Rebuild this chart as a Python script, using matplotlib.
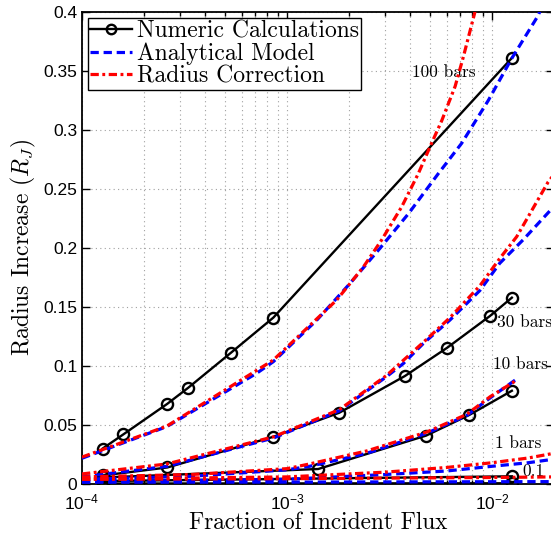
import matplotlib
matplotlib.use("Agg")
import matplotlib.pyplot as plt
from matplotlib.ticker import FixedLocator, FuncFormatter, LogLocator

plt.rcParams['font.family'] = ['Liberation Sans', 'DejaVu Sans']
plt.rcParams['mathtext.fontset'] = 'cm'
plt.rcParams['axes.formatter.use_mathtext'] = True

# numeric calculations (circles)
x_num_100 = [1.26e-4, 1.59e-4, 2.61e-4, 3.30e-4, 5.31e-4, 8.58e-4, 1.25e-2]
y_num_100 = [0.030, 0.042, 0.068, 0.0816, 0.111, 0.141, 0.361]
x_num_30 = [1.26e-4, 2.61e-4, 8.58e-4, 1.80e-3, 3.76e-3, 6.05e-3, 9.78e-3, 1.25e-2]
y_num_30 = [0.0072, 0.014, 0.040, 0.0604, 0.0915, 0.1155, 0.1424, 0.1579]
x_num_10 = [1.26e-4, 1.42e-3, 4.77e-3, 7.75e-3, 1.25e-2]
y_num_10 = [0.0055, 0.0127, 0.041, 0.0585, 0.079]
x_num_1 = [1.26e-4, 1.25e-2]
y_num_1 = [0.0025, 0.0065]
x_num_01 = [1.26e-4, 1.25e-2]
y_num_01 = [0.0004, 0.0006]

# analytical model (blue)
x_ana_100 = [1.0e-4, 2.59e-4, 7.11e-4, 8.57e-4, 1.40e-3, 2.03e-3, 2.84e-3, 3.91e-3, 5.47e-3, 7.11e-3, 9.59e-3, 1.25e-2, 1.68e-2, 1.80e-2]
y_ana_100 = [0.0218, 0.0486, 0.0938, 0.1036, 0.139, 0.170, 0.1997, 0.229, 0.263, 0.2887, 0.325, 0.3608, 0.397, 0.41]
x_ana_30 = [1.0e-4, 2.6e-4, 8.6e-4, 1.8e-3, 3.06e-3, 3.69e-3, 4.62e-3, 6.24e-3, 8.73e-3, 1.09e-2, 1.42e-2, 2.0e-2]
y_ana_30 = [0.006, 0.015, 0.039, 0.062, 0.091, 0.102, 0.119, 0.139, 0.164, 0.187, 0.207, 0.235]
x_ana_10 = [1.0e-4, 3.4e-4, 1.0e-3, 1.29e-3, 2.45e-3, 4.8e-3, 7.53e-3, 9.8e-3, 1.32e-2]
y_ana_10 = [0.004, 0.0065, 0.012, 0.015, 0.026, 0.043, 0.058, 0.073, 0.089]
x_ana_1 = [1e-4, 1e-3, 3e-3, 6e-3, 1e-2, 1.5e-2, 2e-2]
y_ana_1 = [0.002, 0.004, 0.008, 0.011, 0.015, 0.018, 0.021]
x_ana_01 = [1e-4, 1e-3, 1e-2, 2e-2]
y_ana_01 = [0.0015, 0.0016, 0.0019, 0.002]

# radius correction (red)
x_cor_100 = [1.0e-4, 2.59e-4, 8.57e-4, 1.75e-3, 2.36e-3, 2.90e-3, 3.63e-3, 4.37e-3, 5.08e-3, 5.69e-3, 6.61e-3, 7.25e-3, 8.20e-3, 8.5e-3]
y_cor_100 = [0.0228, 0.049, 0.105, 0.156, 0.184, 0.207, 0.235, 0.263, 0.289, 0.308, 0.337, 0.362, 0.398, 0.41]
x_cor_30 = [1.0e-4, 2.6e-4, 8.6e-4, 1.8e-3, 3.06e-3, 4.62e-3, 6.24e-3, 8.73e-3, 1.09e-2, 1.32e-2, 1.88e-2, 2.0e-2]
y_cor_30 = [0.0085, 0.017, 0.040, 0.063, 0.092, 0.120, 0.141, 0.168, 0.191, 0.2096, 0.256, 0.262]
x_cor_10 = x_ana_10
y_cor_10 = [0.006, 0.008, 0.013, 0.017, 0.028, 0.044, 0.059, 0.074, 0.088]
x_cor_1 = x_ana_1
y_cor_1 = [0.004, 0.006, 0.010, 0.014, 0.018, 0.022, 0.026]
x_cor_01 = x_ana_01
y_cor_01 = [0.004, 0.0045, 0.0055, 0.006]

labels = ['100 bars', '30 bars', '10 bars', '1 bars', '0.1']
label_x = [4.07e-3, 1.06e-2, 1.01e-2, 1.03e-2, 1.40e-2]
label_y = [0.349, 0.137, 0.101, 0.0347, 0.0104]

serif = 'cmr10'

fig = plt.figure(figsize=(5.51, 5.38), dpi=100)
ax = fig.add_axes([0.1488, 0.1004, 0.8561, 0.8773])

num_kw = dict(color='black', lw=1.7, marker='o', ms=8, mfc='none', mew=1.7, zorder=3)
ana_kw = dict(color='#0000ff', lw=2.3, dashes=(2.6, 1.5), zorder=4)
cor_kw = dict(color='#ff0000', lw=2.3, dashes=(2.6, 1.1, 0.9, 1.1), zorder=5)

numeric = [(x_num_100, y_num_100), (x_num_30, y_num_30), (x_num_10, y_num_10),
           (x_num_1, y_num_1), (x_num_01, y_num_01)]
analytic = [(x_ana_100, y_ana_100), (x_ana_30, y_ana_30), (x_ana_10, y_ana_10),
            (x_ana_1, y_ana_1), (x_ana_01, y_ana_01)]
correction = [(x_cor_100, y_cor_100), (x_cor_30, y_cor_30), (x_cor_10, y_cor_10),
              (x_cor_1, y_cor_1), (x_cor_01, y_cor_01)]

for i in range(len(numeric)):
    ax.plot(*numeric[i], label='Numeric Calculations' if i == 0 else None, **num_kw)
    ax.plot(*analytic[i], label='Analytical Model' if i == 0 else None, **ana_kw)
    ax.plot(*correction[i], label='Radius Correction' if i == 0 else None, **cor_kw)

for t, xx, yy in zip(labels, label_x, label_y):
    ax.text(xx, yy, t, fontfamily=serif, fontsize=12.5, va='center', ha='left', zorder=2)

ax.set_xscale('log')
ax.set_xlim(1e-4, 2e-2)
ax.set_ylim(0, 0.4)
ax.yaxis.set_major_locator(FixedLocator([0, 0.05, 0.1, 0.15, 0.2, 0.25, 0.3, 0.35, 0.4]))
ax.yaxis.set_major_formatter(FuncFormatter(lambda v, p: '%g' % round(v, 2)))
ax.xaxis.set_major_locator(LogLocator(base=10, numticks=10))
ax.xaxis.set_minor_locator(LogLocator(base=10, subs=range(2, 10), numticks=20))

ax.grid(True, which='major', axis='both', color='#a0a0a0', ls=(0, (1, 3)), lw=0.8)
ax.grid(True, which='minor', axis='x', color='#a0a0a0', ls=(0, (1, 3)), lw=0.8)
ax.set_axisbelow(True)

ax.tick_params(which='both', direction='in', top=True, right=True, labelsize=12.5, width=1)
ax.tick_params(which='major', length=6)
ax.tick_params(which='minor', length=3)
ax.tick_params(axis='x', pad=6)
for s in ax.spines.values():
    s.set_linewidth(1.3)

ax.set_xlabel('Fraction of Incident Flux', fontfamily=serif, fontsize=16.8, labelpad=0)
ax.set_ylabel(r'Radius Increase ($R_J$)', fontfamily=serif, fontsize=17, labelpad=4)

leg = ax.legend(loc='upper left', bbox_to_anchor=(0.012, 0.988), borderaxespad=0,
                prop={'family': serif, 'size': 17}, fancybox=False, framealpha=1,
                edgecolor='black', handlelength=1.75, handletextpad=0.2,
                labelspacing=0.0, borderpad=0.12, markerscale=0.85)
leg.get_frame().set_linewidth(1.0)

fig.savefig('out.png', dpi=100)
